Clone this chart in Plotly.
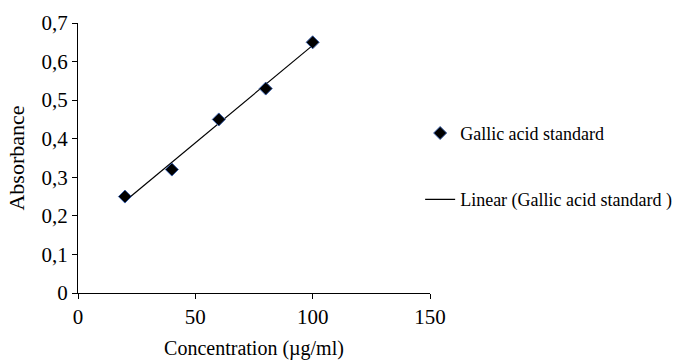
import numpy as np
import plotly.graph_objects as go

conc = [20, 40, 60, 80, 100]
absorbance = [0.25, 0.32, 0.45, 0.53, 0.65]
series_name = "Gallic acid standard"
trend_name = "Linear (Gallic acid standard )"
x_title = "Concentration (µg/ml)"
y_title = "Absorbance"

slope, intercept = np.polyfit(conc, absorbance, 1)
trend_x = [min(conc), max(conc)]
trend_y = [slope * v + intercept for v in trend_x]

FONT = "Liberation Serif"

fig = go.Figure()
fig.add_trace(go.Scatter(
    x=trend_x, y=trend_y, mode="lines", name=trend_name,
    line=dict(color="black", width=1.2), legendgroup="b", legendrank=2,
))
fig.add_trace(go.Scatter(
    x=conc, y=absorbance, mode="markers", name=series_name,
    marker=dict(symbol="diamond", size=10, color="black",
                line=dict(color="#3a5fa8", width=1)),
    legendgroup="a", legendrank=1,
))

axis_common = dict(
    showline=True, linecolor="black", linewidth=1,
    ticks="outside", ticklen=5, tickcolor="black", tickwidth=1,
    showgrid=False, zeroline=False,
    tickfont=dict(family=FONT, size=21, color="black"),
)

fig.update_layout(
    width=675, height=363,
    margin=dict(l=78, r=245, t=23, b=70, autoexpand=False),
    plot_bgcolor="white", paper_bgcolor="white",
    separators=", ",
    font=dict(family=FONT, size=20, color="black"),
    xaxis=dict(range=[0, 150], dtick=50,
               title=dict(text=x_title, font=dict(family=FONT, size=20), standoff=12),
               **axis_common),
    yaxis=dict(range=[0, 0.7], dtick=0.1,
               title=dict(text=y_title, font=dict(family=FONT, size=22), standoff=10),
               **axis_common),
    legend=dict(x=0.972, y=0.66, xanchor="left", yanchor="top",
                traceorder="grouped", tracegroupgap=40,
                font=dict(family=FONT, size=18, color="black"),
                bgcolor="rgba(0,0,0,0)"),
)

fig.write_html("out.html")
